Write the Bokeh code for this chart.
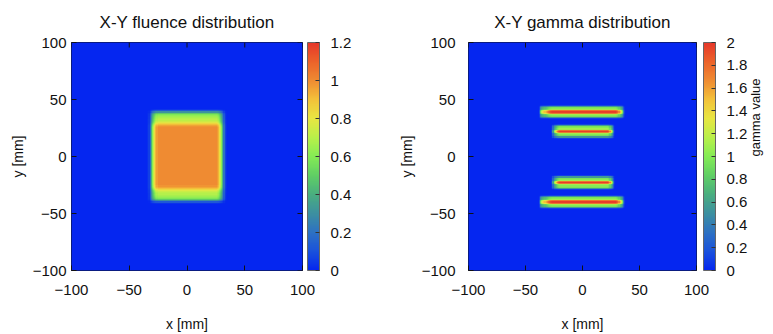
import numpy as np
from bokeh.plotting import figure
from bokeh.models import (LinearColorMapper, ColorBar, FixedTicker, LinearAxis,
                          Range1d)
from bokeh.layouts import row
from bokeh.embed import file_html
from bokeh.resources import INLINE

FONT = "Liberation Sans"

# ---------------- data ----------------
axis_ticks = [-100, -50, 0, 50, 100]

fluence_ticks = [0, 0.2, 0.4, 0.6, 0.8, 1.0, 1.2]
fluence_tick_labels = ["0", "0.2", "0.4", "0.6", "0.8", "1", "1.2"]

gamma_ticks = [0, 0.2, 0.4, 0.6, 0.8, 1.0, 1.2, 1.4, 1.6, 1.8, 2.0]
gamma_tick_labels = ["0", "0.2", "0.4", "0.6", "0.8", "1", "1.2", "1.4", "1.6", "1.8", "2"]

# fluence profile along x, 1 mm samples from x = -40 to x = 40
fluence_x_start = -40
fluence_x_profile = [
    0, 0, 0, 0, 0, 0,
    0.02, 0.06, 0.2, 0.42, 0.6, 0.72, 0.82, 0.92, 0.97,
    1, 1, 1, 1, 1, 1, 1, 1, 1, 1, 1, 1, 1, 1, 1, 1, 1,
    1, 1, 1, 1, 1, 1, 1, 1, 1, 1, 1, 1, 1, 1, 1, 1, 1,
    1, 1, 1, 1, 1, 1, 1, 1, 1, 1, 1, 1, 1, 1, 1, 1, 1,
    0.97, 0.92, 0.82, 0.72, 0.6, 0.42, 0.2, 0.06, 0.02,
    0, 0, 0, 0, 0, 0,
]

# fluence profile along y, 1 mm samples from y = -45 to y = 45
fluence_y_start = -45
fluence_y_profile = [
    0, 0, 0, 0,
    0.03, 0.12, 0.3, 0.48, 0.58, 0.62, 0.65, 0.67,
    0.69, 0.71, 0.74, 0.78, 0.84, 0.9, 0.95, 0.98,
    1, 1, 1, 1, 1, 1, 1, 1, 1, 1, 1, 1, 1, 1, 1, 1, 1,
    1, 1, 1, 1, 1, 1, 1, 1, 1, 1, 1, 1, 1, 1, 1, 1, 1,
    1, 1, 1, 1, 1, 1, 1, 1, 1, 1, 1, 1, 1, 1, 1, 1, 1,
    0.98, 0.95, 0.9, 0.84, 0.78, 0.74, 0.71, 0.69,
    0.67, 0.65, 0.62, 0.58, 0.48, 0.3, 0.12, 0.03,
    0, 0, 0, 0,
]

# gamma bands: centre line (y, mm) of each band and which x-profile it uses
gamma_band_y = [39, 22, -23, -40]
gamma_band_kind = ["long", "short", "short", "long"]

# gamma value across a band, 1 mm samples from -6 to +6 mm about its centre
gamma_across_start = -6
gamma_across = [0.1, 0.55, 0.95, 1.0, 1.1, 1.75, 1.98, 1.75, 1.1, 1.0, 0.95, 0.55, 0.1]

# relative gamma along x for the long bands, 1 mm samples from x = -40 to 40
gamma_x_start = -40
gamma_long_x = [
    0, 0,
    0.1, 0.45, 0.6, 0.68, 0.72, 0.76, 0.8, 0.85, 0.9, 0.94, 0.97, 0.99,
    1, 1, 1, 1, 1, 1, 1, 1, 1, 1, 1, 1, 1, 1,
    1, 1, 1, 1, 1, 1, 1, 1, 1, 1, 1, 1, 1, 1,
    1, 1, 1, 1, 1, 1, 1, 1, 1, 1, 1, 1, 1, 1,
    1, 1, 1, 1, 1, 1, 1, 1, 1, 1, 1, 1, 1, 1,
    0.97, 0.92, 0.85, 0.75, 0.65, 0.5, 0.2, 0.05,
    0, 0, 0,
]
# relative gamma along x for the short bands
gamma_short_x = [
    0, 0, 0, 0, 0, 0, 0, 0, 0, 0, 0, 0, 0,
    0.05, 0.3, 0.55, 0.68, 0.78, 0.88, 0.95, 0.99,
    1, 1, 1, 1, 1, 1, 1, 1, 1, 1, 1, 1, 1, 1,
    1, 1, 1, 1, 1, 1, 1, 1, 1, 1, 1, 1, 1, 1,
    1, 1, 1, 1, 1, 1, 1, 1, 1, 1, 1, 1, 1, 1,
    0.95, 0.85, 0.7, 0.5, 0.2, 0.03,
    0, 0, 0, 0, 0, 0, 0, 0, 0, 0, 0, 0,
]

# ---------------- style ----------------
anchor_pos = [0.0, 0.083, 0.167, 0.25, 0.333, 0.417, 0.5, 0.583, 0.667,
              0.75, 0.833, 0.917, 1.0]
anchor_col = ["#0526f0", "#1a52dc", "#2e72c2", "#3d90a0", "#4aae80", "#60cf65",
              "#85ec55", "#b8f04a", "#e8e642", "#f3c23a", "#ef8c32", "#ec622a",
              "#e6382a"]


def build_palette(n=256):
    fr = np.linspace(0, 1, n)
    rgb = np.array([[int(c[1:3], 16), int(c[3:5], 16), int(c[5:7], 16)]
                    for c in anchor_col], dtype=float)
    ch = [np.interp(fr, anchor_pos, rgb[:, k]) for k in range(3)]
    return ["#%02x%02x%02x" % (int(round(r)), int(round(g)), int(round(b)))
            for r, g, b in zip(*ch)]


PALETTE = build_palette()
INK = "#111111"

GRID_N = 201        # 1 mm cells covering -100 .. 100 mm
GRID_ORIGIN = -100


def embed(profile, start):
    full = np.zeros(GRID_N)
    i0 = start - GRID_ORIGIN
    full[i0:i0 + len(profile)] = profile
    return full


fluence = np.outer(embed(fluence_y_profile, fluence_y_start),
                   embed(fluence_x_profile, fluence_x_start))

gamma = np.zeros((GRID_N, GRID_N))
along = {"long": embed(gamma_long_x, gamma_x_start),
         "short": embed(gamma_short_x, gamma_x_start)}
for yc, kind in zip(gamma_band_y, gamma_band_kind):
    r0 = yc + gamma_across_start - GRID_ORIGIN
    gamma[r0:r0 + len(gamma_across), :] += np.outer(gamma_across, along[kind])


def style_axis(ax, standoff, label, label_standoff):
    ax.ticker = FixedTicker(ticks=axis_ticks)
    ax.major_tick_in = 5
    ax.major_tick_out = 0
    ax.minor_tick_line_color = None
    ax.major_tick_line_color = INK
    ax.axis_line_color = None
    ax.major_label_standoff = standoff
    ax.major_label_text_font = FONT
    ax.major_label_text_color = INK
    ax.major_label_text_font_size = "15px"
    ax.axis_label = label
    ax.axis_label_standoff = label_standoff
    ax.axis_label_text_font = FONT
    ax.axis_label_text_font_size = "14px"
    ax.axis_label_text_font_style = "normal"
    ax.axis_label_text_color = INK


def make_panel(field, title, high, ticks, labels, width, left, right,
               y_standoff, bar_gap):
    p = figure(width=width, height=334, x_range=Range1d(-100, 100),
               y_range=Range1d(-100, 100), output_backend="svg",
               toolbar_location=None, min_border_left=left,
               min_border_right=right, min_border_top=42,
               min_border_bottom=62, title=title)
    p.title.text_font = FONT
    p.title.text_font_size = "17px"
    p.title.text_font_style = "normal"
    p.title.text_color = INK
    p.title.align = "center"
    p.title.standoff = 21
    p.grid.visible = False
    p.outline_line_color = INK
    p.outline_line_width = 1
    p.background_fill_color = PALETTE[0]

    mapper = LinearColorMapper(palette=PALETTE, low=0, high=high)
    p.image(image=[field], x=-100.5, y=-100.5, dw=201, dh=201,
            color_mapper=mapper)

    style_axis(p.xaxis[0], 14, "x [mm]", 18)
    style_axis(p.yaxis[0], y_standoff, "y [mm]", 4)

    # mirrored tick marks on the top and right edges of the frame
    n = len(axis_ticks)
    p.ray(x=axis_ticks, y=[p.y_range.end] * n, length=5, length_units="screen",
          angle=-np.pi / 2, line_color=INK, line_width=1)
    p.ray(x=[p.x_range.end] * n, y=axis_ticks, length=5, length_units="screen",
          angle=np.pi, line_color=INK, line_width=1)

    cb = ColorBar(color_mapper=mapper, ticker=FixedTicker(ticks=ticks),
                  major_label_overrides=dict(zip(ticks, labels)),
                  width=12, padding=0, margin=0, label_standoff=11,
                  location=(bar_gap, 0),
                  major_tick_in=4, major_tick_out=0,
                  major_tick_line_color="#333333",
                  minor_tick_line_color=None,
                  bar_line_color="#666666", border_line_color=None,
                  background_fill_color=None,
                  major_label_text_font=FONT,
                  major_label_text_font_size="15px",
                  major_label_text_color=INK)
    p.add_layout(cb, "right")
    return p


p1 = make_panel(fluence, "X-Y fluence distribution", 1.2, fluence_ticks,
                fluence_tick_labels, 390, 71, 88, 5, 5)
p2 = make_panel(gamma, "X-Y gamma distribution", 2.0, gamma_ticks,
                gamma_tick_labels, 383, 78, 76, 13, 7)

# colour-bar title, drawn as the label of a tick-less axis beyond the bar
gax = LinearAxis(ticker=FixedTicker(ticks=[]), axis_label="gamma value",
                 axis_line_color=None, major_tick_out=0, major_tick_in=0,
                 minor_tick_line_color=None, major_label_standoff=0,
                 axis_label_standoff=5, axis_label_text_font=FONT,
                 axis_label_text_font_size="13px",
                 axis_label_text_font_style="normal",
                 axis_label_text_color=INK)
try:
    gax.axis_label_orientation = np.pi / 2
except Exception:
    pass
p2.add_layout(gax, "right")

layout = row(p1, p2)
open("out.html", "w").write(file_html(layout, INLINE))
